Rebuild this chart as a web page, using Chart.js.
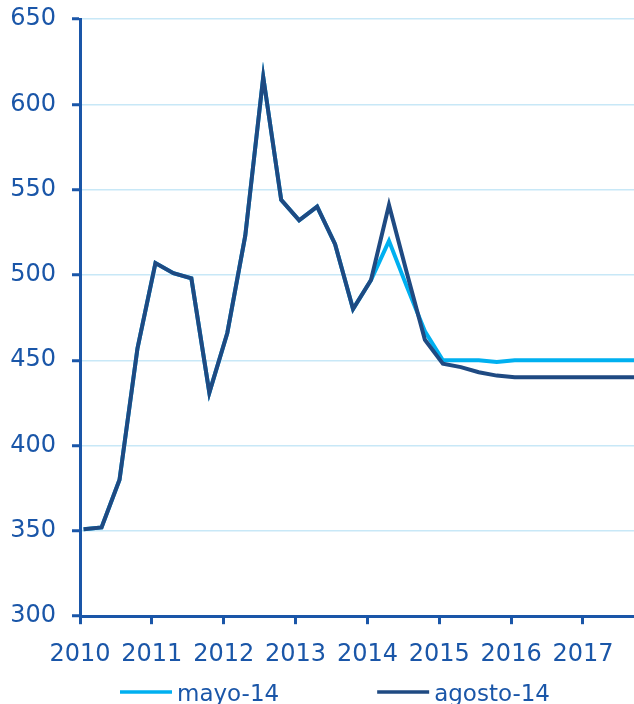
<!DOCTYPE html>
<html>
<head>
<meta charset="utf-8">
<script src="https://cdn.jsdelivr.net/npm/chart.js@4"></script>
<style>
  html, body { margin: 0; padding: 0; background: #ffffff; overflow: hidden; }
  canvas { display: block; }
</style>
</head>
<body>
<canvas id="grafico" width="634" height="704"></canvas>
<script>
// Trimestres 2010T1 .. 2017T4 (fecha en años decimales, un poco después del inicio de trimestre)
const trimestres = [
    '2010T1', '2010T2', '2010T3', '2010T4', '2011T1', '2011T2', '2011T3', '2011T4',
    '2012T1', '2012T2', '2012T3', '2012T4', '2013T1', '2013T2', '2013T3', '2013T4',
    '2014T1', '2014T2', '2014T3', '2014T4', '2015T1', '2015T2', '2015T3', '2015T4',
    '2016T1', '2016T2', '2016T3', '2016T4', '2017T1', '2017T2', '2017T3', '2017T4'
];
const mayo14 = [
    351, 352, 380, 457, 507, 501, 498, 431,
    466, 523, 616, 544, 532, 540, 518, 480,
    497, 520, 493, 467, 450, 450, 450, 449,
    450, 450, 450, 450, 450, 450, 450, 450
];
const agosto14 = [
    351, 352, 380, 457, 507, 501, 498, 431,
    466, 523, 616, 544, 532, 540, 518, 480,
    497, 541, 501, 462, 448, 446, 443, 441,
    440, 440, 440, 440, 440, 440, 440, 440
];
const anios = [2010, 2011, 2012, 2013, 2014, 2015, 2016, 2017];
const yTicks = [300, 350, 400, 450, 500, 550, 600, 650];

const AZUL_TEXTO = '#1a56a8';
const AZUL_CLARO = '#00b0f0';
const AZUL_OSCURO = '#1f4a82';
const GRID = '#c8e8f7';

const fechas = trimestres.map(t => {
    const anio = parseInt(t.slice(0, 4), 10);
    const q = parseInt(t.slice(5), 10);
    return anio + (q - 1) / 4 + 0.05;
});
const toPoints = vals => vals.map((v, i) => ({ x: fechas[i], y: v }));

const series = [
    { label: 'mayo-14', color: AZUL_CLARO },
    { label: 'agosto-14', color: AZUL_OSCURO },
];

// leyenda propia: línea + texto, como en el original
const leyenda = {
    id: 'leyenda',
    afterDraw(chart) {
        const ctx = chart.ctx;
        ctx.save();
        ctx.font = '23px "DejaVu Sans"';
        ctx.textBaseline = 'alphabetic';
        let x = 120;
        const y = 692;
        series.forEach(s => {
            ctx.strokeStyle = s.color;
            ctx.lineWidth = 3.5;
            ctx.beginPath();
            ctx.moveTo(x, y);
            ctx.lineTo(x + 52, y);
            ctx.stroke();
            ctx.fillStyle = AZUL_TEXTO;
            ctx.fillText(s.label, x + 57, y + 9);
            x += 57 + ctx.measureText(s.label).width + 98;
        });
        ctx.restore();
    }
};

Chart.defaults.font.family = '"DejaVu Sans", sans-serif';

new Chart(document.getElementById('grafico'), {
    type: 'line',
    data: {
        datasets: [
            // agosto primero para que quede dibujada encima
            {
                label: 'agosto-14',
                data: toPoints(agosto14),
                borderColor: AZUL_OSCURO,
                backgroundColor: AZUL_OSCURO,
                borderWidth: 4,
                pointRadius: 0,
                tension: 0,
            },
            {
                label: 'mayo-14',
                data: toPoints(mayo14),
                borderColor: AZUL_CLARO,
                backgroundColor: AZUL_CLARO,
                borderWidth: 4,
                pointRadius: 0,
                tension: 0,
            },
        ]
    },
    options: {
        responsive: false,
        animation: false,
        layout: { padding: { top: 19, right: 0, bottom: 19, left: 0 } },
        plugins: {
            legend: { display: false },
            tooltip: { enabled: false }
        },
        scales: {
            x: {
                type: 'linear',
                min: 2010,
                max: 2017.71,
                afterBuildTicks: axis => { axis.ticks = anios.map(v => ({ value: v })); },
                ticks: {
                    color: AZUL_TEXTO,
                    font: { size: 24 },
                    padding: 16,
                    maxRotation: 0,
                    autoSkip: false,
                    callback: v => String(v)
                },
                grid: {
                    drawOnChartArea: false,
                    tickLength: 8,
                    tickWidth: 3,
                    tickColor: AZUL_TEXTO
                },
                border: { color: AZUL_TEXTO, width: 3 }
            },
            y: {
                min: 300,
                max: 650,
                afterBuildTicks: axis => { axis.ticks = yTicks.map(v => ({ value: v })); },
                afterFit: scale => {
                    scale.width = 80;
                    scale.paddingTop = 0;
                    scale.paddingBottom = 0;
                },
                ticks: {
                    color: AZUL_TEXTO,
                    font: { size: 24 },
                    padding: 16,
                    callback: v => String(v)
                },
                grid: {
                    color: GRID,
                    lineWidth: 1.5,
                    tickLength: 8,
                    tickWidth: 3,
                    tickColor: AZUL_TEXTO
                },
                border: { color: AZUL_TEXTO, width: 3 }
            }
        }
    },
    plugins: [leyenda]
});
</script>
</body>
</html>
